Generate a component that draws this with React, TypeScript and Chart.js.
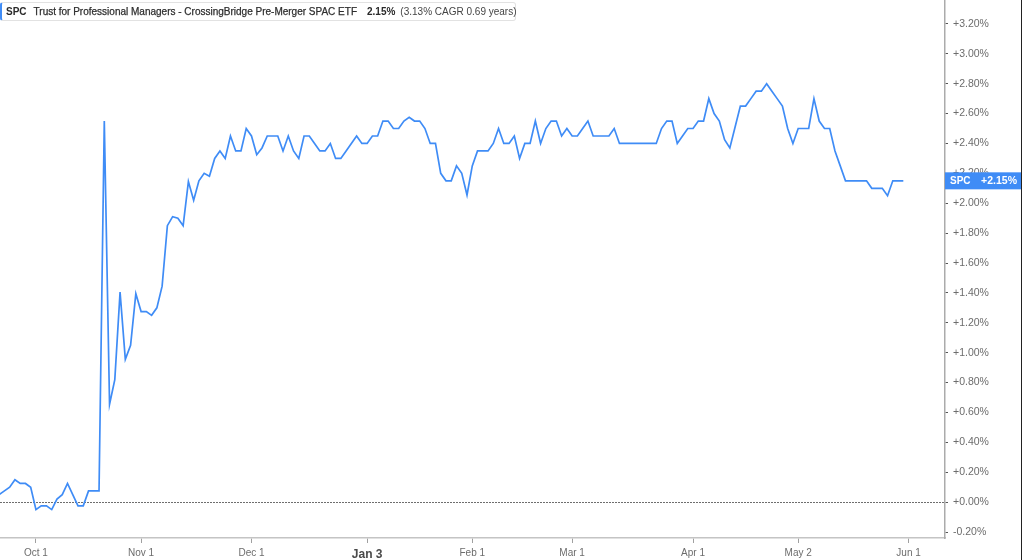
import React, { useEffect, useRef } from "react";
import { Chart, registerables } from "chart.js";

Chart.register(...registerables);

// Daily (trading-day) cumulative return of SPC, in percent
const spcReturns: number[] = [
  0.05, 0.075, 0.1, 0.15, 0.125, 0.125, 0.1, -0.05, -0.025, -0.025,
  -0.05, 0.02, 0.05, 0.125, 0.05, -0.025, -0.025, 0.075, 0.075, 0.075,
  2.55, 0.655, 0.82, 1.405, 0.955, 1.05, 1.395, 1.275, 1.275, 1.25,
  1.3, 1.445, 1.85, 1.91, 1.9, 1.85, 2.145, 2.02, 2.15, 2.2,
  2.18, 2.3, 2.35, 2.3, 2.45, 2.35, 2.35, 2.5, 2.45, 2.325,
  2.37, 2.45, 2.45, 2.45, 2.35, 2.45, 2.35, 2.3, 2.45, 2.45,
  2.4, 2.35, 2.35, 2.4, 2.3, 2.3, 2.35, 2.4, 2.45, 2.4,
  2.4, 2.45, 2.45, 2.55, 2.55, 2.5, 2.5, 2.55, 2.575, 2.55,
  2.55, 2.5, 2.4, 2.4, 2.2, 2.15, 2.15, 2.25, 2.2, 2.055,
  2.25, 2.35, 2.35, 2.35, 2.4, 2.5, 2.4, 2.4, 2.45, 2.3,
  2.4, 2.4, 2.55, 2.4, 2.5, 2.55, 2.55, 2.45, 2.5, 2.45,
  2.45, 2.5, 2.55, 2.45, 2.45, 2.45, 2.45, 2.5, 2.4, 2.4,
  2.4, 2.4, 2.4, 2.4, 2.4, 2.4, 2.5, 2.55, 2.55, 2.4,
  2.45, 2.5, 2.5, 2.55, 2.55, 2.7, 2.6, 2.55, 2.425, 2.37,
  2.51, 2.65, 2.65, 2.7, 2.75, 2.75, 2.8, 2.75, 2.7, 2.65,
  2.5, 2.4, 2.5, 2.5, 2.5, 2.7, 2.55, 2.5, 2.5, 2.35,
  2.25, 2.15, 2.15, 2.15, 2.15, 2.15, 2.1, 2.1, 2.1, 2.05,
  2.15, 2.15, 2.15,
];

// X axis: trading-day index of each labelled date
const tickLabels: string[] = ["Oct 1", "Nov 1", "Dec 1", "Jan 3", "Feb 1", "Mar 1", "Apr 1", "May 2", "Jun 1"];
const tickDays: number[] = [7, 27, 48, 70, 90, 109, 132, 152, 173];
const yearStartDay = 70;

// Y axis ticks (percent)
const yTicks: number[] = [-0.2, 0, 0.2, 0.4, 0.6, 0.8, 1.0, 1.2, 1.4, 1.6, 1.8, 2.0, 2.2, 2.4, 2.6, 2.8, 3.0, 3.2];

const ticker = "SPC";
const fundName = "Trust for Professional Managers - CrossingBridge Pre-Merger SPAC ETF";
const totalReturn = "2.15%";
const cagrText = "(3.13% CAGR 0.69 years)";
const lastValue = spcReturns[spcReturns.length - 1];

const FONT = "'Liberation Sans', Arial, Helvetica, sans-serif";
const BLUE = "#3f8cf6";

const fmtPct = (v: number) => (v >= 0 ? "+" : "") + v.toFixed(2) + "%";

export default function App() {
  const canvasRef = useRef<HTMLCanvasElement | null>(null);

  useEffect(() => {
    const canvas = canvasRef.current;
    if (!canvas) return;

    const overlay = {
      id: "overlay",
      beforeDatasetsDraw(chart: any) {
        const { ctx, chartArea, scales } = chart;
        const y0 = Math.round(scales.y.getPixelForValue(0)) + 0.5;
        ctx.save();
        ctx.strokeStyle = "#6e6e6e";
        ctx.lineWidth = 1;
        ctx.setLineDash([2, 1]);
        ctx.beginPath();
        ctx.moveTo(chartArea.left, y0);
        ctx.lineTo(chartArea.right, y0);
        ctx.stroke();
        ctx.restore();
      },
      afterDraw(chart: any) {
        const { ctx, chartArea, scales } = chart;
        const yc = scales.y.getPixelForValue(lastValue);
        ctx.save();
        ctx.fillStyle = BLUE;
        ctx.fillRect(chartArea.right, yc - 8.5, 1022 - chartArea.right, 17);
        ctx.fillStyle = "#ffffff";
        ctx.textBaseline = "middle";
        ctx.font = `bold 10px ${FONT}`;
        ctx.textAlign = "left";
        ctx.fillText(ticker, chartArea.right + 5, yc + 0.5);
        ctx.font = `bold 10.5px ${FONT}`;
        ctx.textAlign = "right";
        ctx.fillText(fmtPct(lastValue), 1017, yc + 0.5);
        ctx.fillStyle = "#222";
        ctx.fillRect(1021, 0, 1, chart.height);
        ctx.restore();
      },
    };

    const chart = new Chart(canvas, {
      type: "line",
      data: {
        datasets: [
          {
            label: ticker,
            data: spcReturns.map((v, i) => ({ x: i, y: v })),
            borderColor: BLUE,
            borderWidth: 1.7,
            pointRadius: 0,
            tension: 0,
            fill: false,
          },
        ],
      },
      options: {
        responsive: false,
        animation: false,
        layout: { padding: 0 },
        plugins: { legend: { display: false }, tooltip: { enabled: false } },
        scales: {
          x: {
            type: "linear",
            bounds: "data",
            min: 0.16,
            max: 179.93,
            afterBuildTicks: (s: any) => {
              s.ticks = tickDays.map((v) => ({ value: v }));
            },
            afterFit: (s: any) => {
              s.height = 22;
              s.paddingLeft = 0;
              s.paddingRight = 0;
              s.paddingTop = 0;
              s.paddingBottom = 0;
            },
            ticks: {
              autoSkip: false,
              maxRotation: 0,
              padding: 4,
              color: (c: any) => (c.tick && c.tick.value === yearStartDay ? "#4a4a4a" : "#6c6c6c"),
              font: (c: any) =>
                c.tick && c.tick.value === yearStartDay
                  ? { family: FONT, size: 12, weight: "bold" }
                  : { family: FONT, size: 10 },
              callback: (v: any) => {
                const k = tickDays.indexOf(Number(v));
                return k >= 0 ? tickLabels[k] : "";
              },
            },
            grid: { drawOnChartArea: false, drawTicks: true, tickLength: 5, color: "#a0a0a0" },
            border: { display: true, color: "#c4c4c4", width: 1.5 },
          },
          y: {
            type: "linear",
            position: "right",
            bounds: "data",
            min: -0.24,
            max: 3.36,
            afterBuildTicks: (s: any) => {
              s.ticks = yTicks.map((v) => ({ value: v }));
            },
            afterFit: (s: any) => {
              s.width = 79;
              s.paddingTop = 0;
              s.paddingBottom = 0;
              s.paddingLeft = 0;
              s.paddingRight = 0;
            },
            ticks: {
              padding: 5,
              color: "#6c6c6c",
              font: { family: FONT, size: 10.5 },
              callback: (v: any) => fmtPct(Number(v)),
            },
            grid: { drawOnChartArea: false, drawTicks: true, tickLength: 3, color: "#555" },
            border: { display: true, color: "#ababab", width: 1.5 },
          },
        },
      },
      plugins: [overlay],
    } as any);

    return () => chart.destroy();
  }, []);

  return (
    <div style={{ position: "absolute", left: 0, top: 0, width: 1024, height: 560, background: "#fff" }}>
      <canvas ref={canvasRef} width={1024} height={560} style={{ width: 1024, height: 560, display: "block" }} />
      <div
        style={{
          position: "absolute",
          left: 0,
          top: 2,
          width: 513,
          height: 17,
          border: "1px solid #e2e2e2",
          borderLeft: `2px solid ${BLUE}`,
          borderRadius: 3,
          background: "#fff",
          display: "flex",
          alignItems: "center",
          fontFamily: FONT,
          fontSize: 10,
          color: "#333",
          whiteSpace: "nowrap",
          boxSizing: "content-box",
        }}
      >
        <span style={{ fontWeight: "bold", marginLeft: 4, color: "#2a2a2a" }}>{ticker}</span>
        <span style={{ marginLeft: 7, color: "#2e2e2e", WebkitTextStroke: "0.25px #2e2e2e" }}>{fundName}</span>
        <span style={{ fontWeight: "bold", marginLeft: 10, color: "#2a2a2a" }}>{totalReturn}</span>
        <span style={{ marginLeft: 5, color: "#444" }}>{cagrText}</span>
      </div>
    </div>
  );
}
